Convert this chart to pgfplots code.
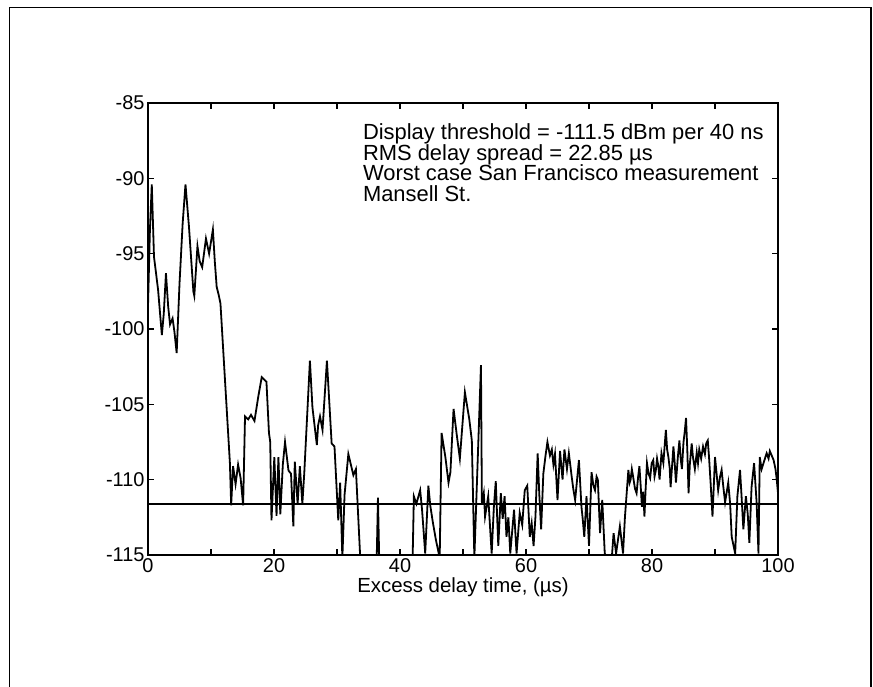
\documentclass[border=0pt]{standalone}
\usepackage{fontspec}
\setmainfont{Liberation Sans}
\usepackage{pgfplots}
\pgfplotsset{compat=1.18}
\pgfplotstableread{
x y
0 -98.5
0.3 -93.5
0.6 -90.4
0.95 -95.2
1.6 -97.4
2.2 -100.4
2.5 -99.0
2.85 -96.3
3.2 -98.5
3.5 -99.7
3.9 -99.3
4.2 -100.2
4.55 -101.6
5.0 -97.0
5.5 -93.0
5.95 -90.4
6.5 -93.2
7.2 -97.5
7.35 -97.8
7.85 -94.5
8.2 -95.5
8.6 -95.9
9.2 -94.0
9.7 -95.0
10.3 -93.4
10.6 -95.5
10.9 -97.2
11.2 -97.7
11.5 -98.3
13.0 -108.9
13.2 -111.7
13.5 -109.1
13.9 -110.3
14.3 -109.0
14.7 -109.9
15.1 -111.7
15.4 -105.8
15.9 -106.0
16.35 -105.7
16.9 -106.1
17.5 -104.5
18.05 -103.2
18.8 -103.5
19.2 -106.9
19.4 -107.5
19.6 -112.7
20.05 -108.5
20.4 -112.4
20.7 -108.5
21.0 -112.3
21.4 -109.0
21.75 -107.5
22.3 -109.4
22.7 -109.6
23.07 -113.1
23.3 -108.8
23.75 -111.6
24.1 -109.1
24.5 -111.6
24.8 -109.6
25.7 -102.1
26.1 -105.2
26.8 -107.7
27.0 -106.4
27.3 -105.8
27.7 -106.7
28.4 -102.1
29.15 -107.6
29.6 -107.8
30.2 -112.7
30.5 -110.2
30.85 -115.2
31.2 -111.0
31.8 -108.3
32.2 -109.0
32.6 -109.7
33.0 -109.3
33.7 -115.3
36.3 -115.3
36.5 -111.2
36.7 -115.3
42.0 -115.3
42.2 -111.1
42.6 -111.6
43.2 -110.7
43.5 -112.0
44.0 -114.9
44.5 -110.4
44.8 -111.7
45.2 -112.8
45.7 -114.0
46.3 -115.2
46.6 -106.9
47.2 -108.5
47.7 -110.2
48.0 -109.5
48.5 -105.3
49.0 -107.0
49.5 -108.6
50.3 -104.2
51.0 -106.0
51.4 -107.4
51.8 -115.2
52.85 -102.4
53.0 -111.6
53.3 -110.9
53.5 -112.45
54.0 -111.1
54.3 -113.2
54.55 -114.9
54.9 -111.8
55.2 -110.1
55.6 -114.4
56.0 -110.9
56.3 -112.6
56.6 -111.1
56.9 -113.8
57.2 -112.5
57.5 -114.9
58.1 -112.0
58.5 -114.9
59.0 -112.2
59.4 -113.0
59.8 -110.7
60.2 -110.4
60.6 -113.8
60.9 -112.9
61.2 -114.4
61.5 -112.45
61.85 -108.25
62.1 -110.9
62.4 -113.3
62.75 -109.6
63.1 -108.4
63.4 -107.5
63.8 -108.4
64.1 -108.0
64.35 -109.0
64.6 -108.3
65.0 -111.35
65.4 -108.1
65.8 -110.0
66.1 -108.0
66.5 -109.3
66.8 -108.25
67.05 -109.1
67.25 -109.8
67.5 -110.6
67.8 -111.35
68.4 -108.7
68.8 -111.8
69.0 -112.6
69.25 -113.8
69.6 -111.1
70.0 -114.4
70.4 -109.5
70.7 -110.4
70.95 -110.7
71.2 -109.8
71.4 -110.0
71.75 -113.55
72.1 -111.35
72.5 -114.9
73.0 -115.3
73.6 -115.3
73.9 -113.55
74.3 -114.9
74.9 -113.1
75.4 -114.9
75.7 -112.5
76.25 -109.35
76.45 -110.2
76.6 -110.0
76.8 -109.3
77.0 -109.8
77.3 -110.6
77.55 -110.9
77.8 -109.8
78.0 -109.1
78.2 -110.4
78.4 -111.8
78.6 -110.8
78.8 -112.45
79.0 -110.5
79.2 -108.9
79.45 -109.6
79.7 -109.9
79.95 -108.9
80.2 -108.7
80.4 -109.8
80.6 -109.4
80.8 -108.6
81.0 -109.1
81.2 -110.0
81.5 -108.25
81.8 -108.9
82.0 -107.8
82.2 -106.7
82.4 -108.0
82.6 -108.5
82.8 -109.2
82.95 -110.5
83.2 -109.0
83.4 -107.8
83.6 -108.9
83.8 -110.2
84.1 -108.5
84.35 -107.4
84.55 -108.6
84.75 -109.3
85.0 -107.5
85.2 -106.8
85.4 -105.9
85.6 -108.0
85.8 -110.9
86.0 -109.0
86.3 -107.6
86.5 -108.5
86.8 -109.3
87.1 -108.2
87.3 -108.9
87.5 -108.0
87.8 -108.6
88.1 -107.8
88.4 -108.3
88.6 -107.6
88.85 -107.4
89.05 -108.5
89.3 -110.2
89.6 -112.45
90.0 -108.5
90.25 -109.6
90.5 -110.7
90.8 -109.8
91.05 -109.35
91.3 -110.4
91.6 -111.5
92.1 -110.2
92.4 -111.6
92.65 -113.8
93.2 -114.9
93.55 -111.1
93.97 -109.35
94.2 -111.0
94.5 -113.3
94.9 -111.1
95.2 -112.3
95.45 -114.2
95.8 -110.5
96.2 -108.9
96.6 -111.5
96.9 -114.9
97.1 -108.5
97.4 -109.3
97.7 -108.9
98.0 -108.5
98.2 -108.25
98.5 -108.6
98.7 -108.1
99.0 -108.4
99.3 -108.7
99.6 -109.3
99.8 -110.0
100 -110.9
}\trace
\begin{document}
\begin{tikzpicture}[x=1bp,y=1bp]
\useasboundingbox (0,0) rectangle (873,687);
\draw[line width=1.8bp] (9.5,0) -- (9.5,679.5) -- (871,679.5) -- (871,0);
\begin{axis}[
  at={(148bp,132bp)}, anchor=south west,
  scale only axis, width=630bp, height=452bp,
  xmin=0, xmax=100, ymin=-115, ymax=-85,
  xtick={0,10,...,100},
  xticklabels={0,,20,,40,,60,,80,,100},
  ytick={-115,-110,...,-85},
  tick align=inside, tick pos=both,
  xticklabel pos=lower, yticklabel pos=left,
  major tick length=6bp,
  axis line style={line width=1.8bp},
  every tick/.style={line width=1.5bp, black},
  /pgf/number format/assume math mode=true,
  ticklabel style={font=\fontsize{20}{22}\selectfont},
  xticklabel style={yshift=0bp},
  xlabel={Excess delay time, (µs)},
  xlabel style={at={(axis description cs:0.5,0)}, anchor=north, inner sep=0pt,
    yshift=-23bp, font=\fontsize{20.5}{22}\selectfont},
  clip=true,
]
\addplot[black, line width=1.8bp] table[x=x,y=y] {\trace};
\addplot[black, line width=1.8bp] coordinates {(0,-111.6) (100,-111.6)};
\node[anchor=north west, inner sep=0pt, align=left, font=\fontsize{22}{20.7}\selectfont]
  at (axis cs:34.1,-86.35)
  {Display threshold = -111.5 dBm per 40 ns\\
   RMS delay spread = 22.85 µs\\
   Worst case San Francisco measurement\\
   Mansell St.};
\end{axis}
\end{tikzpicture}
\end{document}
